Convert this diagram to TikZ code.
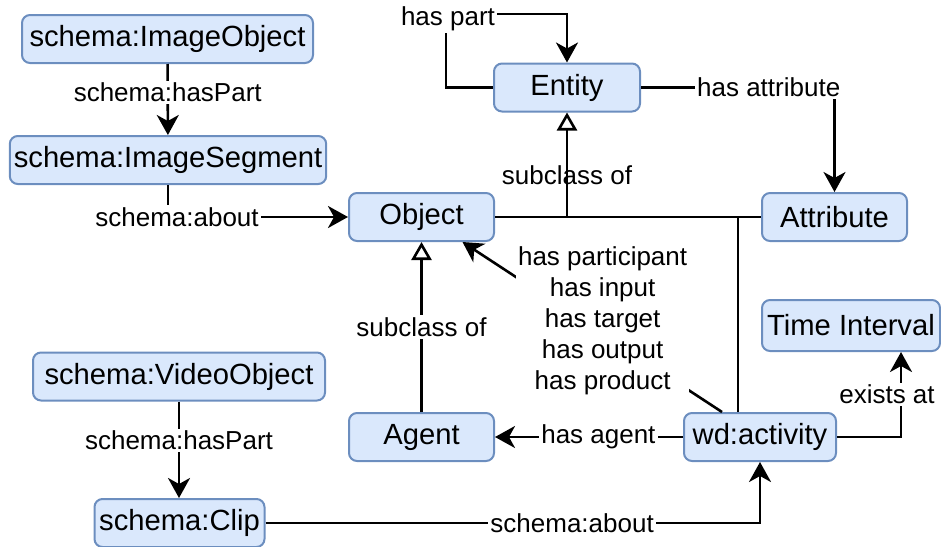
\documentclass[tikz,border=0pt]{standalone}
\usepackage{fontspec}
\setmainfont{Liberation Sans}
\usepackage{xcolor}
\usetikzlibrary{arrows.meta}
\definecolor{boxfill}{HTML}{DAE8FC}
\definecolor{boxline}{HTML}{6C8EBF}

\begin{document}
\begin{tikzpicture}[x=0.5pt,y=-0.5pt,
        cls/.style={draw=boxline,fill=boxfill,line width=1pt,rounded corners=4pt,
            minimum height=24pt,inner sep=2pt,font=\fontsize{14.6}{17}\selectfont},
        lbl/.style={fill=white,inner sep=1pt,font=\fontsize{13}{15.5}\selectfont},
        link/.style={line width=1.3pt},
        arr/.style={link,-{Stealth[length=10pt,width=11pt,inset=3pt]}},
        isa/.style={link,-{Triangle[length=9pt,width=10pt,fill=white]}}]
        \useasboundingbox (0,0) rectangle (941,546);
        \node[cls,minimum width=145.5pt] (imgobj) at (167.5,39) {schema:ImageObject};
        \node[cls,minimum width=158pt] (imgseg) at (168,160) {schema:ImageSegment};
        \node[cls,minimum width=73pt] (entity) at (567,87.5) {Entity};
        \node[cls,minimum width=72.5pt] (object) at (421.5,217) {Object};
        \node[cls,minimum width=72.5pt] (attribute) at (834.5,217) {Attribute};
        \node[cls,minimum width=89pt,minimum height=25.5pt] (interval) at (851,325.5) {Time Interval};
        \node[cls,minimum width=146pt] (vidobj) at (179,376.5) {schema:VideoObject};
        \node[cls,minimum width=72.5pt] (agent) at (421.5,437) {Agent};
        \node[cls,minimum width=76pt] (activity) at (760,437) {wd:activity};
        \node[cls,minimum width=85pt] (clip) at (179.5,523) {schema:Clip};
        \coordinate (loop) at (446,14);
        \coordinate (split) at (entity.south |- object.east);
        \coordinate (actup) at (738,217);
        \draw[arr] (imgobj) -- node[lbl,pos=0.4] {schema:hasPart} (imgseg);
        \draw[arr] (imgseg.south) |- node[lbl,pos=0.5,xshift=4.5pt] {schema:about} (object.west);
        \draw[arr] (entity.west) -| (loop) -| (entity.north);
        \node[lbl] (haspart) at (448,19) {has part};
        \draw[arr] (entity.east) -| node[lbl,pos=0.33] {has attribute} (attribute.north);
        \draw[link] (object.east) -- (attribute.west);
        \draw[isa] (split) -- (entity.south);
        \draw[link] (activity.north -| actup) -- (actup);
        \node[inner sep=1pt,font=\fontsize{13}{15.5}\selectfont] (subent) at (567,175) {subclass of};
        \draw[isa] (agent) -- node[lbl] {subclass of} (object);
        \draw[arr] ([xshift=-19pt]activity.north) -- node[lbl,pos=0.46,yshift=6.5pt,align=center]
            {has participant\\has input\\has target\\has output\\has product} ([xshift=20.5pt]object.south);
        \draw[arr] (activity) -- node[lbl,pos=0.45] {has agent} (agent);
        \draw[arr] (activity.east) -| node[lbl,pos=0.75,xshift=-7pt] {exists at} ([xshift=25pt]interval.south);
        \draw[arr] (vidobj.south) -- node[lbl,pos=0.4] {schema:hasPart} (vidobj.south |- clip.north);
        \draw[arr] (clip.east) -| node[lbl,pos=0.31] {schema:about} (activity.south);
    \end{tikzpicture}
\end{document}
